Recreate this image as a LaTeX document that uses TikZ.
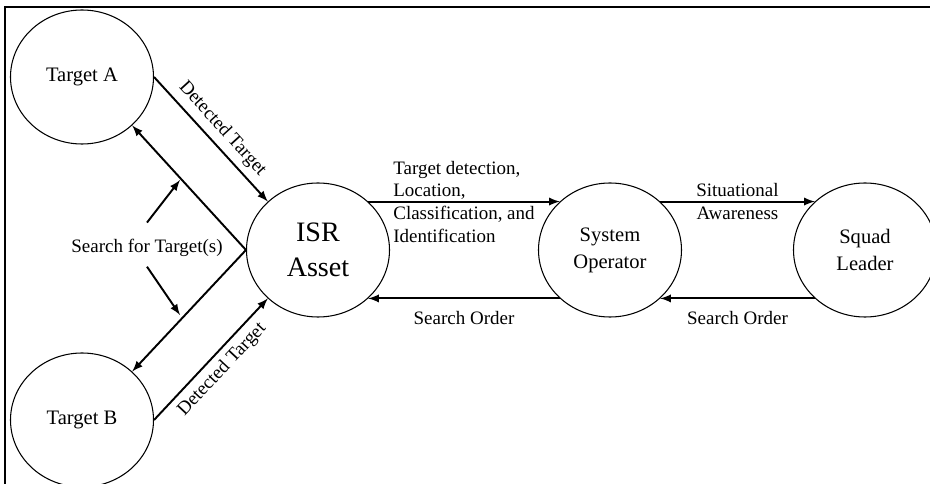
\documentclass[tikz,border=0pt]{standalone}
\usepackage{fontspec}
\setmainfont{Liberation Serif}
\usetikzlibrary{calc, shapes.geometric, positioning}

\begin{document}
\begin{tikzpicture}[>=latex, x=0.2mm, y=0.2mm,
    actor/.style={draw, ellipse, line width=0.6pt, minimum width=28.6mm,
        minimum height=26.8mm, inner sep=0pt, align=center,
        font=\fontsize{11.7}{15.4}\selectfont},
    flow/.style={->, line width=1.1pt},
    lbl/.style={font=\fontsize{10.8}{12.9}\selectfont}]
    \useasboundingbox (0,0) rectangle (930,484);
    % Frame
    \draw[line width=0.4mm] (5,0) -- (5,477) -- (930,477);

    % Actors
    \node[actor] (ta) at (82,407) {Target A};
    \node[actor] (tb) at (82,64) {Target B};
    \node[actor, font=\fontsize{16}{19.9}\selectfont] (isr) at (318,234) {ISR\\Asset};
    \node[actor] (so) at (610,234) {System\\Operator};
    \node[actor] (sl) at (865,234) {Squad\\Leader};

    % Targets and ISR asset
    \draw[flow] (ta.east) -- (isr.136) node[lbl, midway, sloped, above] {Detected Target};
    \draw[flow] (tb.east) -- (isr.-136) node[lbl, midway, sloped, below] {Detected Target};
    \draw[flow] (isr.west) -- (ta.-44);
    \draw[flow] (isr.west) -- (tb.44);

    % Search label
    \node[lbl] (search) at (147,236) {Search for Target(s)};
    \coordinate (searchup) at (180,304);
    \coordinate (searchdown) at (180,169);
    \draw[flow] ([yshift=2.1mm]search.north) -- (searchup);
    \draw[flow] ([yshift=-0.75mm]search.south) -- (searchdown);

    % ISR asset, operator and leader
    \draw[flow] (isr.44) -- (so.136) node[lbl, midway, align=left]
        {Target detection,\\Location,\\Classification, and\\Identification};
    \draw[flow] (so.-136) -- (isr.-44) node[lbl, midway, below=1.2mm] {Search Order};
    \draw[flow] (so.44) -- (sl.136) node[lbl, midway, align=center] {Situational\\Awareness};
    \draw[flow] (sl.-136) -- (so.-44) node[lbl, midway, below=1.2mm] {Search Order};
\end{tikzpicture}
\end{document}
